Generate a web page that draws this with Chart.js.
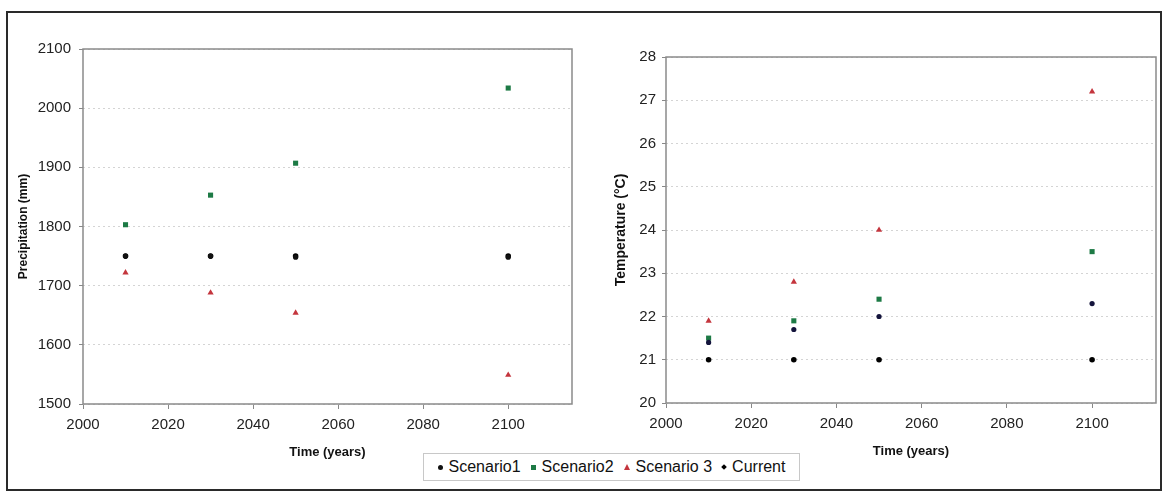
<!DOCTYPE html>
<html>
<head>
<meta charset="utf-8">
<script src="https://cdn.jsdelivr.net/npm/chart.js@4"></script>
<style>
  body { margin: 0; background: #fff; width: 1163px; height: 493px; position: relative; overflow: hidden; font-family: "Liberation Sans", Arial, sans-serif; }
  .frame { position: absolute; left: 6px; top: 11px; width: 1152px; height: 476px; border: 2px solid #2a2a2a; }
  .box { position: absolute; top: 0; height: 493px; }
  #legend { position: absolute; left: 423px; top: 453px; width: 375px; height: 26px; border: 1px solid #c8c8c8; background: #fff;
            display: flex; align-items: center; justify-content: center; font-size: 16px; color: #111; }
  .item { display: flex; align-items: center; margin: 0 5px; }
  .mk { display: inline-block; margin-right: 6px; }
</style>
</head>
<body>
<div class="frame"></div>
<div class="box" style="left:0;width:580px"><canvas id="precipChart"></canvas></div>
<div class="box" style="left:580px;width:583px"><canvas id="tempChart"></canvas></div>
<div id="legend"></div>
<script>
const years = [2010, 2030, 2050, 2100]
const seriesNames = ['Scenario1', 'Scenario2', 'Scenario 3', 'Current']

const precipScenario1 = [1750, 1750, 1748, 1748]
const precipScenario2 = [1803, 1853, 1907, 2034]
const precipScenario3 = [1722, 1688, 1654, 1549]
const precipCurrent = [1750, 1750, 1750, 1750]

const tempScenario1 = [21.4, 21.7, 22.0, 22.3]
const tempScenario2 = [21.5, 21.9, 22.4, 23.5]
const tempScenario3 = [21.9, 22.8, 24.0, 27.2]
const tempCurrent = [21, 21, 21, 21]

const styles = [
    { color: '#111111', pointStyle: 'circle', radius: 2.6 },
    { color: '#1d7a45', pointStyle: 'rect', radius: 3.6 },
    { color: '#c4353d', pointStyle: 'triangle', radius: 3.6 },
    { color: '#000000', pointStyle: 'circle', radius: 2.8 }
]

function makeDatasets(seriesList, s1Color) {
    return seriesList.map((values, i) => ({
        label: seriesNames[i],
        data: values.map((v, j) => ({ x: years[j], y: v })),
        pointStyle: styles[i].pointStyle,
        pointRadius: styles[i].radius,
        pointHoverRadius: styles[i].radius,
        backgroundColor: i === 0 && s1Color ? s1Color : styles[i].color,
        borderColor: i === 0 && s1Color ? s1Color : styles[i].color,
        borderWidth: 0,
        showLine: false
    }))
}

// grey frame round the plot area
const plotFrame = {
    id: 'plotFrame',
    beforeDatasetsDraw(chart) {
        const a = chart.chartArea
        const ctx = chart.ctx
        ctx.save()
        ctx.strokeStyle = '#8a8a8a'
        ctx.lineWidth = 1.5
        ctx.strokeRect(a.left, a.top, a.right - a.left, a.bottom - a.top)
        ctx.restore()
    }
}

function makeOptions(o) {
    return {
        responsive: true,
        maintainAspectRatio: false,
        animation: false,
        layout: { padding: { left: 0, right: o.padRight, top: o.padTop, bottom: o.padBottom } },
        plugins: { legend: { display: false }, tooltip: { enabled: false } },
        scales: {
            x: {
                type: 'linear',
                min: 2000,
                max: 2115,
                afterFit: (axis) => { axis.height = 58 },
                ticks: { stepSize: 20, includeBounds: false, color: '#222', padding: 7,
                         callback: (v) => String(v),
                         font: { family: 'Liberation Sans', size: 15 } },
                grid: { drawOnChartArea: false, tickLength: 5, color: '#888' },
                border: { display: false },
                title: { display: true, text: 'Time (years)', color: '#111', padding: { top: 0, bottom: 2 },
                         font: { family: 'Liberation Sans', size: 13, weight: 'bold' } }
            },
            y: {
                min: o.yMin,
                max: o.yMax,
                afterFit: (axis) => { axis.width = o.yWidth },
                ticks: { stepSize: o.yStep, color: '#222', padding: o.tickPad,
                         callback: (v) => String(v),
                         font: { family: 'Liberation Sans', size: 15 } },
                grid: { color: '#d4d4d4', tickLength: 4, tickColor: '#888', tickBorderDash: [] },
                border: { display: false, dash: [2, 3] },
                title: { display: true, text: o.yTitle, color: '#111', padding: { top: o.titlePad, bottom: 0 },
                         font: { family: 'Liberation Sans', size: o.yTitleSize, weight: 'bold' } }
            }
        }
    }
}

const precipChart = new Chart(document.getElementById('precipChart'), {
    type: 'scatter',
    data: { datasets: makeDatasets([precipScenario1, precipScenario2, precipScenario3, precipCurrent]) },
    options: makeOptions({ padRight: 8, padTop: 49, padBottom: 31, yMin: 1500, yMax: 2100, yStep: 100, tickPad: 8,
                           yWidth: 83, yTitle: 'Precipitation (mm)', yTitleSize: 12, titlePad: 16 }),
    plugins: [plotFrame]
})

const tempChart = new Chart(document.getElementById('tempChart'), {
    type: 'scatter',
    data: { datasets: makeDatasets([tempScenario1, tempScenario2, tempScenario3, tempCurrent], '#14143c') },
    options: makeOptions({ padRight: 7, padTop: 57, padBottom: 32, yMin: 20, yMax: 28, yStep: 1, tickPad: 6,
                           yWidth: 86, yTitle: 'Temperature (°C)', yTitleSize: 14, titlePad: 33 }),
    plugins: [plotFrame]
})

// shared legend under both charts
const legend = document.getElementById('legend')
const markers = [
    '<span class="mk" style="width:5px;height:5px;border-radius:50%;background:#111"></span>',
    '<span class="mk" style="width:5px;height:5px;background:#1d7a45"></span>',
    '<span class="mk" style="width:0;height:0;border-left:3px solid transparent;border-right:3px solid transparent;border-bottom:6px solid #c4353d"></span>',
    '<span class="mk" style="width:4px;height:4px;background:#000;transform:rotate(45deg)"></span>'
]
seriesNames.forEach((name, i) => {
    const el = document.createElement('span')
    el.className = 'item'
    el.innerHTML = markers[i] + '<span>' + name + '</span>'
    legend.appendChild(el)
})
</script>
</body>
</html>
